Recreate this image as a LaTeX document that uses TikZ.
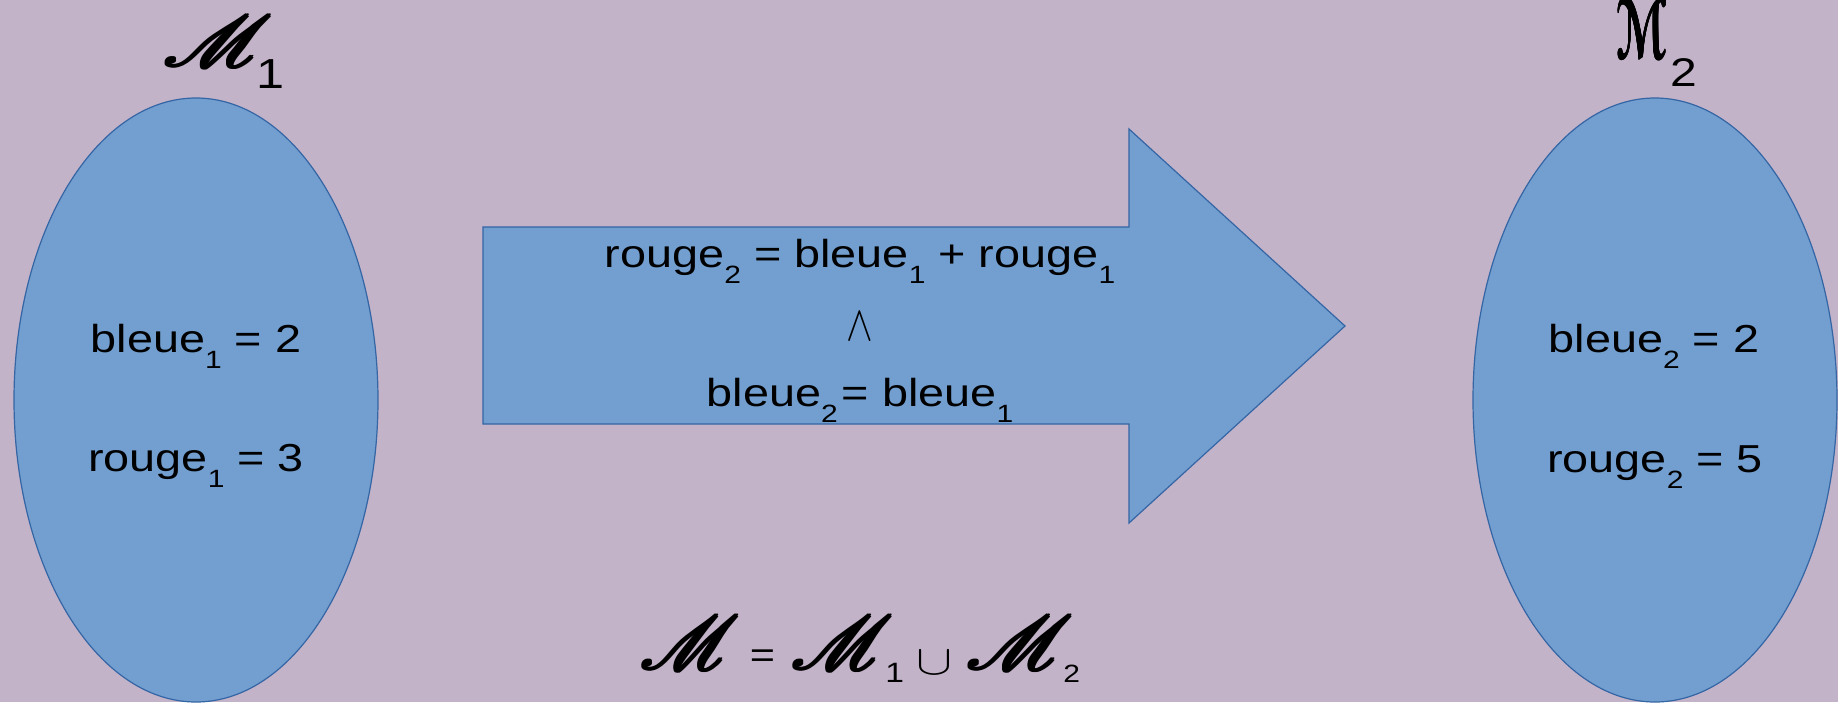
\documentclass[tikz,border=0pt]{standalone}
\usepackage{fontspec}
\usepackage{mathrsfs}
\usepackage{graphicx}
\setmainfont{Liberation Sans}[FakeStretch=1.2]
\newfontfamily\dejavu{DejaVu Sans}
\definecolor{bg}{RGB}{195,179,201}
\definecolor{fillblue}{HTML}{729FCF}
\definecolor{edgeblue}{HTML}{3465A4}
\newcommand{\sbs}[1]{\raisebox{-8pt}{\fontsize{12.5pt}{12.5pt}\selectfont #1}}
\newcommand{\fatten}[3]{\makebox[0pt][l]{#3}\makebox[0pt][l]{\hspace{#1}#3}\makebox[0pt][l]{\raisebox{#1}{#3}}\makebox[0pt][l]{\hspace{#1}\raisebox{#1}{#3}}\makebox[0pt][l]{\hspace{#2}\raisebox{#2}{#3}}\hspace{#1}\phantom{#3}}
\newcommand{\Mglyph}{$\mathscr{M}$}
\newcommand{\bigM}[2]{\scalebox{#1}[#2]{\fatten{0.28pt}{0.14pt}{\Mglyph}}}
\begin{document}
\begin{tikzpicture}[x=0.5pt,y=-0.5pt,
  shapebox/.style={fill=fillblue,draw=edgeblue,line width=0.6pt},
  txt/.style={inner sep=0pt,anchor=base,font=\fontsize{19.5pt}{19.5pt}\selectfont},
  lbl/.style={inner sep=0pt}]
\fill[bg] (0,0) rectangle (1838,702);
\useasboundingbox (0,0) rectangle (1838,702);
\begin{scope}
\clip (0,0) rectangle (1838,702);
\path[shapebox] (196,400) ellipse [x radius=182, y radius=302];
\path[shapebox] (1655,400) ellipse [x radius=182, y radius=302];
\end{scope}
\path[shapebox] (483,227) -- (1129,227) -- (1129,129) -- (1345,326) -- (1129,523) -- (1129,424) -- (483,424) -- cycle;

\node[txt] (b1) at (196,352) {bleue\sbs{1} = 2};
\node[txt] (r1) at (196,471) {rouge\sbs{1} = 3};
\node[txt] (b2) at (1654,352) {bleue\sbs{2} = 2};
\node[txt] (r2) at (1655,472) {rouge\sbs{2} = 5};
\node[txt] (eq1) at (860,267) {rouge\sbs{2} = bleue\sbs{1} + rouge\sbs{1}};
\node[lbl] (and) at (860,326.5) {\scalebox{2.0}[2.5]{$\wedge$}};
\node[txt] (eq2) at (860,406) {bleue\sbs{2}\hspace{2pt}= bleue\sbs{1}};

\node[lbl] (M1) at (218,41) {\bigM{4.4}{3.6}};
\node[lbl, anchor=base west, font=\fontsize{21pt}{21pt}\selectfont] (M1s) at (256,88) {1};
\node[lbl] (M2) at (1642,29) {\scalebox{0.6}[1.12]{\fatten{0.5pt}{0.25pt}{\dejavu\bfseries\fontsize{36pt}{36pt}\selectfont ℳ}}};
\node[lbl, anchor=base west, font=\fontsize{20pt}{20pt}\selectfont] (M2s) at (1670,86) {2};

\node[lbl] (fM) at (690,642.5) {\bigM{4.0}{3.8}};
\node[lbl, font=\fontsize{18pt}{18pt}\selectfont] (feq) at (762.5,659) {=};
\node[lbl] (fM1) at (842,642.5) {\bigM{4.1}{3.8}};
\node[lbl, anchor=base west, font=\fontsize{14pt}{14pt}\selectfont] (f1) at (885,682) {1};
\node[lbl] (fcup) at (934.5,662.5) {\scalebox{2.7}[2.1]{$\cup$}};
\node[lbl] (fM2) at (1020,642.5) {\bigM{4.3}{3.8}};
\node[lbl, anchor=base west, font=\fontsize{12.5pt}{12.5pt}\selectfont] (f2) at (1063,682) {2};
\end{tikzpicture}
\end{document}
